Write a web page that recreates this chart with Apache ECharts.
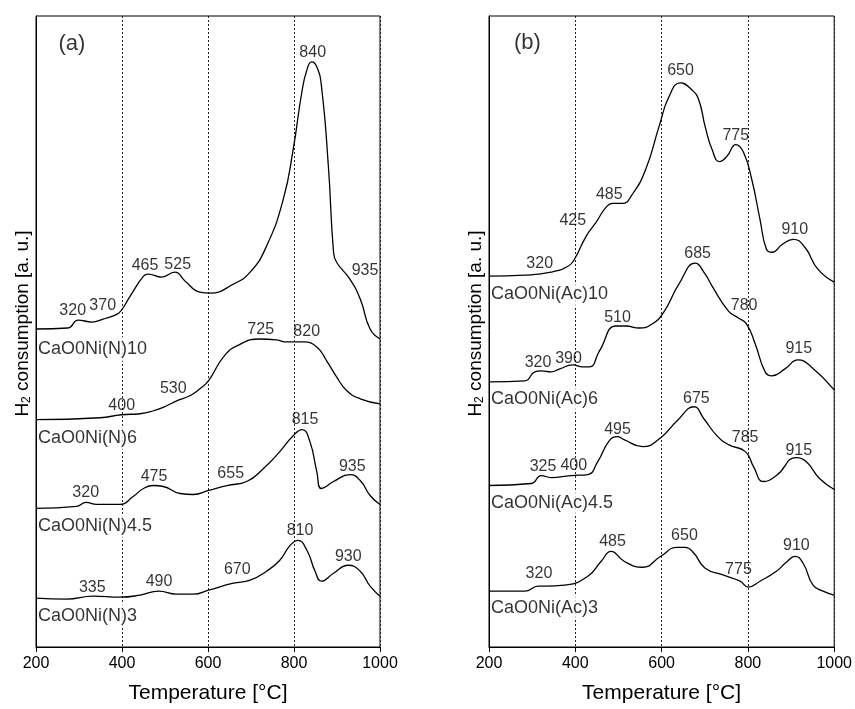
<!DOCTYPE html>
<html>
<head>
<meta charset="utf-8">
<script src="https://cdn.jsdelivr.net/npm/echarts@6/dist/echarts.min.js"></script>
<style>html,body{margin:0;padding:0;background:#fff}#c{width:855px;height:709px}</style>
</head>
<body>
<div id="c"></div>
<script>
// ---------- data (temperature in °C, signal in a.u. with stacking offset) ----------
const xTicks = [200, 400, 600, 800, 1000];

// Panel (a) CaO0Ni(N)
const a10T = [200,274,298,330,356,384,397,419,450,461,492,523,547,581,605,659,698,736,775,798,818,830,841,853,864,880,892,899,930,954,977,1000];
const a10V = [319,320,328,326,329,333,337,352,372,374,371,376,367,356,355,364,376,402,449,499,556,579,587,582,562,482,396,386,369,349,319,309];
const a6T  = [200,349,399,442,473,504,527,558,581,601,636,667,721,760,783,822,853,876,899,923,954,1000];
const a6V  = [228,230,233,234,237,242,247,252,259,267,291,302,309,308,306,306,301,287,271,257,249,244];
const a45T = [200,295,316,341,395,426,450,473,496,535,566,601,644,690,729,767,798,819,837,853,864,892,930,954,977,1000];
const a45V = [139,141,145,143,143,151,159,162,161,154,153,157,162,166,179,196,212,218,206,176,159,166,173,167,152,143];
const a3T  = [200,271,333,395,442,485,527,566,601,659,698,736,767,791,809,830,849,864,892,926,954,977,1000];
const a3V  = [49,48,51,50,52,56,53,53,57,64,67,76,87,102,107,97,76,66,74,82,76,61,51];

// Panel (b) CaO0Ni(Ac)
const b10T = [200,283,344,383,398,425,448,471,486,509,532,563,594,617,644,670,686,701,717,734,751,772,790,809,828,843,856,880,905,932,962,1000];
const b10V = [372,373,376,382,389,412,426,441,445,445,454,479,522,552,566,559,549,522,499,487,492,504,496,469,429,399,396,404,409,401,379,366];
const b6T  = [200,283,306,321,344,364,394,417,433,456,494,517,548,578,605,640,678,701,717,755,778,797,817,840,855,886,916,947,1000];
const b6V  = [266,267,276,277,276,279,283,281,281,297,322,322,320,324,336,364,385,374,362,337,330,324,304,276,272,279,288,281,258];
const b45T = [200,298,321,344,390,429,452,479,498,513,556,598,636,675,698,728,755,794,813,836,866,912,935,966,1000];
const b45V = [162,164,172,170,172,173,186,207,211,208,201,210,227,241,229,212,203,196,181,166,172,190,186,169,158];
const b3T  = [200,283,314,329,375,429,460,483,513,556,598,636,655,675,701,744,782,801,828,866,889,909,928,951,974,1000];
const b3V  = [56,56,61,61,62,71,86,96,86,80,91,100,100,94,79,72,66,60,66,76,85,91,84,62,56,52];

// sample names and their positions
const namesA = ['CaO0Ni(N)10', 'CaO0Ni(N)6', 'CaO0Ni(N)4.5', 'CaO0Ni(N)3'];
const namesAV = [299, 210, 121, 31];
const namesB = ['CaO0Ni(Ac)10', 'CaO0Ni(Ac)6', 'CaO0Ni(Ac)4.5', 'CaO0Ni(Ac)3'];
const namesBV = [354, 249, 144, 39];
const nameT = 204.6;

// peak annotations
const peaksAText = ['840','935','465','525','320','370','725','820','530','400','815','475','655','935','320','810','930','670','490','335'];
const peaksAT = [843.5,965.1,453.5,529.5,285.3,355.1,722.6,829.5,519.3,399.3,825.6,474.4,652.8,935.6,315.6,814,926.3,668.1,486,330.9];
const peaksAV = [596.3,377.3,382.3,384,337.3,342.3,318,316.3,259,242.3,228,170.7,174,180.7,155,116.3,90.7,77.3,65.7,60];
const peaksBText = ['650','775','485','425','910','320','685','780','510','915','320','390','675','495','785','915','325','400','650','485','910','775','320'];
const peaksBT = [643.8,771.9,478.7,394.2,908.7,317.5,683.6,791.2,497.8,917.9,313.5,384.2,680.7,497.8,793.5,917.9,325.1,396.5,653,486.3,912.3,778.1,315.8];
const peaksBV = [578.3,513.3,454,427.3,419,384.7,395,342.3,330.7,299,285,289.7,249,218.3,210,197.3,180.7,182.3,111.3,105.7,101.3,77.3,74];

const panelText = ['(a)', '(b)'];
const panelT = [283.7, 289.1];
const panelV = [605, 605.7];

// ---------- chart ----------
const FONT = 'Liberation Sans, Arial, sans-serif';
const zip = (T, V) => T.map((t, i) => [t, V[i]]);

function xAxisFor(idx) {
  return {
    gridIndex: idx, type: 'value', min: 200, max: 1000, interval: 200,
    axisLine: { show: true, onZero: false, lineStyle: { color: '#000', width: 1 } },
    axisTick: { show: true, inside: false, length: 5, lineStyle: { color: '#000' } },
    axisLabel: { color: '#000', fontSize: 16, fontFamily: FONT, margin: 9,
      formatter: v => xTicks.includes(v) ? String(v) : '' },
    splitLine: { show: true, lineStyle: { color: '#222', width: 1, type: [2, 2] } },
    name: 'Temperature [°C]', nameLocation: 'middle', nameGap: 36,
    nameTextStyle: { color: '#000', fontSize: 21, fontFamily: FONT }
  };
}
function yAxisFor(idx) {
  return {
    gridIndex: idx, type: 'value', min: 0, max: 633,
    axisLine: { show: true, lineStyle: { color: '#000', width: 1 } },
    axisTick: { show: false }, axisLabel: { show: false }, splitLine: { show: false },
    name: '{n|H}{s|2}{n| consumption [a. u.]}', nameLocation: 'middle', nameGap: 3,
    nameTextStyle: { color: '#000', fontFamily: FONT, fontSize: 19, padding: [0, 0, 0, 16],
      rich: { n: { fontSize: 19, fontFamily: FONT, color: '#000' },
              s: { fontSize: 12, fontFamily: FONT, color: '#000', verticalAlign: 'bottom', padding: [9, 0, 0, 0] } } }
  };
}
function curve(T, V, idx) {
  return { type: 'line', xAxisIndex: idx, yAxisIndex: idx, data: zip(T, V),
    showSymbol: false, smooth: 0.5, silent: true, z: 3,
    lineStyle: { color: '#000', width: 1.3 } };
}
function labels(T, V, texts, idx, size, opts) {
  return { type: 'scatter', xAxisIndex: idx, yAxisIndex: idx, symbolSize: 0, silent: true, z: 5,
    data: T.map((t, i) => ({ value: [t, V[i]], name: texts[i] })),
    label: Object.assign({ show: true, position: 'inside', formatter: '{b}', color: '#000',
      fontSize: size, fontFamily: FONT }, opts || {}) };
}

const chart = echarts.init(document.getElementById('c'), null, { renderer: 'canvas' });
chart.setOption({
  animation: false,
  backgroundColor: '#fff',
  grid: [
    { left: 36, top: 16, width: 344, height: 633, show: true, borderColor: '#000', borderWidth: 1, backgroundColor: 'transparent' },
    { left: 489, top: 16, width: 347, height: 633, show: true, borderColor: '#000', borderWidth: 1, backgroundColor: 'transparent' }
  ],
  xAxis: [xAxisFor(0), xAxisFor(1)],
  yAxis: [yAxisFor(0), yAxisFor(1)],
  series: [
    curve(a10T, a10V, 0), curve(a6T, a6V, 0), curve(a45T, a45V, 0), curve(a3T, a3V, 0),
    curve(b10T, b10V, 1), curve(b6T, b6V, 1), curve(b45T, b45V, 1), curve(b3T, b3V, 1),
    labels(peaksAT, peaksAV, peaksAText, 0, 16),
    labels(peaksBT, peaksBV, peaksBText, 1, 16),
    labels(namesA.map(() => nameT), namesAV, namesA, 0, 18,
      { position: 'right', distance: 0, backgroundColor: '#fff', padding: [3, 0, 3, 0] }),
    labels(namesB.map(() => nameT), namesBV, namesB, 1, 18,
      { position: 'right', distance: 0, backgroundColor: '#fff', padding: [3, 0, 3, 0] }),
    labels([panelT[0]], [panelV[0]], [panelText[0]], 0, 22),
    labels([panelT[1]], [panelV[1]], [panelText[1]], 1, 22)
  ]
});
</script>
</body>
</html>
